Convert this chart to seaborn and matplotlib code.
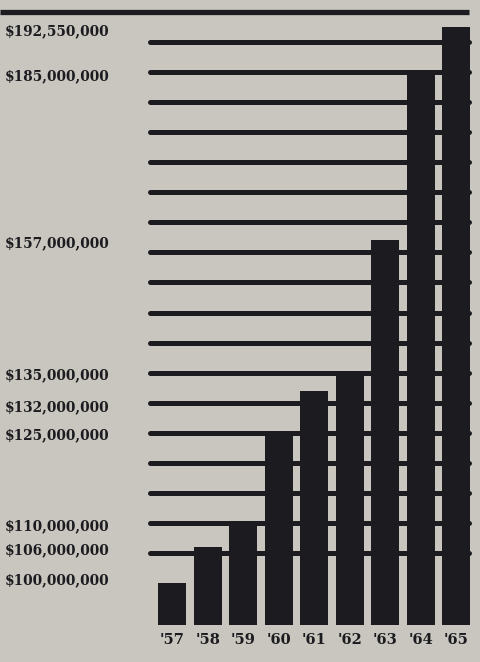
import matplotlib
matplotlib.use("Agg")
import matplotlib.pyplot as plt
import seaborn as sns
import pandas as pd

# ---- data ----
years = ["'57", "'58", "'59", "'60", "'61", "'62", "'63", "'64", "'65"]
values_musd = [100, 106, 110, 125, 132, 135, 157, 185, 192.55]
label_values = [192.55, 185, 157, 135, 132, 125, 110, 106, 100]
label_texts = ["$192,550,000", "$185,000,000", "$157,000,000", "$135,000,000",
               "$132,000,000", "$125,000,000", "$110,000,000", "$106,000,000",
               "$100,000,000"]
grid_levels = list(range(105, 195, 5))
top_level = 195

sns.set_theme(style="white")
BG = "#c8c6be"
INK = "#1c1c20"
plt.rcParams['font.family'] = ['DejaVu Serif', 'DejaVu Sans']

W, H = 481, 662
fig = plt.figure(figsize=(W / 100, H / 100), dpi=100, facecolor=BG)
ax_l, ax_r, ax_b, ax_t = 148, 472, 625, 0
ax = fig.add_axes([ax_l / W, 1 - ax_b / H, (ax_r - ax_l) / W, (ax_b - ax_t) / H])
ax.set_facecolor(BG)

df = pd.DataFrame({"year": years, "value": values_musd})

# gridlines behind bars
for lv in grid_levels:
    ax.axhline(lv, xmin=0.005, xmax=0.99, color=INK, lw=3.6, zorder=1,
               solid_capstyle="round")
ax.axhline(top_level, xmin=-ax_l / (ax_r - ax_l), xmax=0.99, color=INK, lw=3.8,
           zorder=1, clip_on=False, solid_capstyle="butt")

sns.barplot(data=df, x="year", y="value", color=INK, width=0.79,
            saturation=1, ax=ax, zorder=3, edgecolor=INK, linewidth=0)

ax.set_ylim(93, 197)
ax.set_xlim(-0.69, 8.45)
for s in ax.spines.values():
    s.set_visible(False)
ax.set_yticks([])
ax.set_xlabel("")
ax.set_ylabel("")
ax.tick_params(axis="x", length=0, pad=6)
for t in ax.get_xticklabels():
    t.set_fontsize(10.5)
    t.set_fontweight("bold")
    t.set_color(INK)

# left labels
nudge = {132: -2.8, 100: 0.4, 192.55: -0.8, 185: -0.6}
trans = ax.get_yaxis_transform()
for v, txt in zip(label_values, label_texts):
    y = v + nudge.get(v, -0.5)
    ax.text(-143 / (ax_r - ax_l), y, txt, transform=trans, ha="left", va="center",
            fontsize=9.9, fontweight="bold", color=INK, clip_on=False)

fig.savefig("out.png", dpi=100, facecolor=BG)
